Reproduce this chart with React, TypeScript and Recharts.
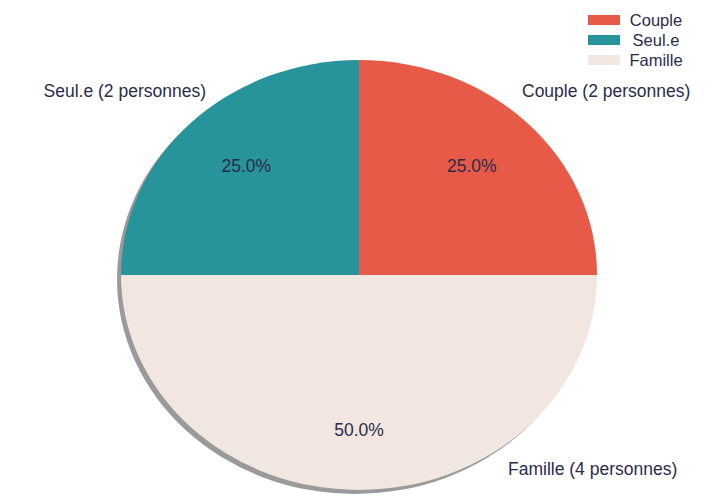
import { Legend, Pie, PieChart, Sector } from "recharts"

// household types
const categories = ["Couple", "Seul.e", "Famille"]
const persons = [2, 2, 4]
const sliceNames = ["Couple (2 personnes)", "Seul.e (2 personnes)", "Famille (4 personnes)"]
const colors = ["#E65A47", "#27939A", "#F1E7E0"]

const data = categories.map((c, i) => ({ name: c, value: persons[i], label: sliceNames[i], fill: colors[i] }))

const CX = 359
const CY = 275
const RX = 238
const RY = 215
const K = RY / RX
const TEXT = "#2a2c4c"
const FONT = "'Liberation Sans', Arial, sans-serif"

// where each outer name sits (relative to the centre) and its anchor
const nameOffsets = [
  { dx: 163, dy: -184, anchor: "start" },
  { dx: -153, dy: -184, anchor: "end" },
  { dx: 149, dy: 194, anchor: "start" },
]

const EllipseSector = (props: any) => {
  const { cx, cy } = props
  return (
    <g transform={`translate(0 ${cy}) scale(1 ${K}) translate(0 ${-cy})`}>
      <Sector {...props} cx={cx} cy={cy} stroke="none" />
    </g>
  )
}

const ShadowSector = (props: any) => {
  const { cy } = props
  return (
    <g transform={`translate(0 ${cy}) scale(1 ${K}) translate(0 ${-cy})`}>
      <Sector {...props} fill="#9a9a9a" stroke="none" />
    </g>
  )
}

const renderLabel = (props: any) => {
  const { cx, cy, midAngle, percent, index } = props
  const rad = (-midAngle * Math.PI) / 180
  const px = cx + 0.67 * RX * Math.cos(rad)
  const py = cy + 0.72 * RY * Math.sin(rad)
  const o = nameOffsets[index]
  return (
    <g>
      <text x={px} y={py} fill={TEXT} fontSize={17.5} fontFamily={FONT} textAnchor="middle" dominantBaseline="central">
        {(percent * 100).toFixed(1)}%
      </text>
      <text x={cx + o.dx} y={cy + o.dy} fill={TEXT} fontSize={17.5} fontFamily={FONT} textAnchor={o.anchor} dominantBaseline="central">
        {data[index].label}
      </text>
    </g>
  )
}

const renderLegend = () => (
  <div style={{ fontFamily: FONT, fontSize: 16.5, color: TEXT, lineHeight: "20px" }}>
    {data.map((d) => (
      <div key={d.name} style={{ display: "flex", alignItems: "center" }}>
        <span style={{ display: "inline-block", width: 32, height: 10, background: d.fill, marginRight: 6 }} />
        <span style={{ width: 60, textAlign: "center" }}>{d.name}</span>
      </div>
    ))}
  </div>
)

export default function App() {
  return (
    <div style={{ position: "absolute", left: 0, top: 0, background: "#fff" }}>
      <PieChart width={722} height={498} margin={{ top: 0, right: 0, bottom: 0, left: 0 }}>
        <Pie
          data={data}
          dataKey="value"
          cx={CX - 4}
          cy={CY + 4}
          outerRadius={RX}
          startAngle={0}
          endAngle={360}
          shape={ShadowSector}
          label={false}
          labelLine={false}
          legendType="none"
          isAnimationActive={false}
        />
        <Pie
          data={data}
          dataKey="value"
          cx={CX}
          cy={CY}
          outerRadius={RX}
          startAngle={0}
          endAngle={360}
          shape={EllipseSector}
          label={renderLabel}
          labelLine={false}
          isAnimationActive={false}
        />
        <Legend
          content={renderLegend}
          layout="vertical"
          verticalAlign="top"
          align="right"
          wrapperStyle={{ position: "absolute", left: 588, top: 10, width: 110 }}
        />
      </PieChart>
    </div>
  )
}
